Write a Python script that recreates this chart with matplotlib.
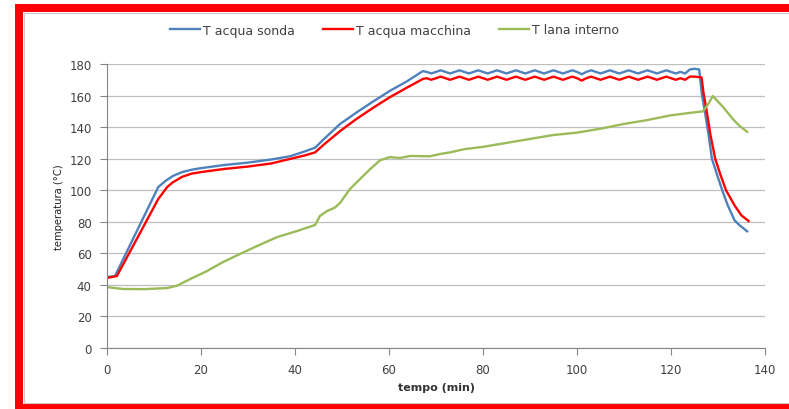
"""
Temperature curves: probe water, machine water and inner wool temperature.
"""

import matplotlib.pyplot as plt
import matplotlib.patches as patches

# --- data -----------------------------------------------------------------
sonda_t = [0, 1.7, 10.9, 12.5, 14, 16, 18, 20, 25, 30, 35, 38.9, 42, 44.3, 46,
           49.6, 53.2, 56.5, 60.2, 63.8, 67.2,
           68, 69, 70, 71, 72, 73, 74, 75, 76, 77, 78, 79, 80, 81, 82, 83, 84,
           85, 86, 87, 88, 89, 90, 91, 92, 93, 94, 95, 96, 97, 98, 99, 100,
           101, 102, 103, 104, 105, 106, 107, 108, 109, 110, 111, 112, 113,
           114, 115, 116, 117, 118, 119, 120, 121, 122, 123, 124, 125, 126,
           126.6, 127.2, 128, 128.7, 130, 130.9, 132, 133.5, 134.5, 136.2]
sonda_v = [45, 45.6, 102, 106, 109, 111.5, 113, 114, 116, 117.5, 119.5, 121.5,
           124.5, 127, 132, 142, 149.5, 156, 163, 169, 175.5,
           175, 174, 175, 176, 175, 174, 175, 176, 175, 174, 175, 176, 175,
           174, 175, 176, 175, 174, 175, 176, 175, 174, 175, 176, 175, 174,
           175, 176, 175, 174, 175, 176, 175, 173.5, 175, 176, 175, 174, 175,
           176, 175, 174, 175, 176, 175, 174, 175, 176, 175, 174, 175, 176,
           175, 174, 175, 174, 176.5, 177, 176.5,
           160, 150, 135, 120, 108, 100, 91, 81, 78, 74]

macchina_t = [0, 2.1, 10.9, 12.8, 14, 16, 18, 20, 25, 30, 35, 38.9, 42, 44.3,
              46, 49.6, 53, 56.5, 60.2, 63.8, 67.2,
              68, 69, 70, 71, 72, 73, 74, 75, 76, 77, 78, 79, 80, 81, 82, 83,
              84, 85, 86, 87, 88, 89, 90, 91, 92, 93, 94, 95, 96, 97, 98, 99,
              100, 101, 102, 103, 104, 105, 106, 107, 108, 109, 110, 111, 112,
              113, 114, 115, 116, 117, 118, 119, 120, 121, 122, 123, 124, 125,
              126.5, 126.9, 127.6, 128.4, 129.4, 130.5, 131.7, 133.6, 135,
              136.5]
macchina_v = [44.4, 45.6, 94.4, 102, 105, 108.5, 110.5, 111.5, 113.5, 115,
              117, 119.8, 122, 124, 128.6, 137.5, 145, 152, 159, 165, 170.5,
              171, 170, 171, 172, 171, 170, 171, 172, 171, 170, 171, 172, 171,
              170, 171, 172, 171, 170, 171, 172, 171, 170, 171, 172, 171, 170,
              171, 172, 171, 170, 171, 172, 171, 169.5, 171, 172, 171, 170,
              171, 172, 171, 170, 171, 172, 171, 170, 171, 172, 171, 170, 171,
              172, 171, 170, 171, 170, 172, 172, 171.5,
              162, 150, 135, 120, 110, 100, 90, 84, 80.5]

lana_t = [0, 3.4, 8, 12.8, 14.9, 17.7, 21.3, 24.7, 28.3, 31.9, 36.2, 40.4,
          44.3, 45.3, 46.8, 48.5, 49.6, 51.7, 53.8, 56, 58.1, 60.2, 62.3,
          64.5, 68.7, 70.9, 73, 76, 80, 85, 90, 95, 100, 105, 110, 115, 120,
          124, 126.8, 128, 128.9, 131, 133.2, 134.5, 136.2]
lana_v = [38.6, 37.4, 37.3, 38, 39.5, 43.7, 48.8, 54.5, 59.6, 64.6, 70.3,
          74.1, 78, 83.7, 86.8, 89, 92, 100.8, 107, 113.4, 119, 121, 120.4,
          121.7, 121.5, 123, 124, 126, 127.5, 130, 132.5, 135, 136.5, 139,
          142, 144.5, 147.5, 149, 150, 155, 159.7, 153, 145, 141, 137]

labels = ["T acqua sonda", "T acqua macchina", "T lana interno"]
colors = ["#4F81BD", "#FF0000", "#9BBB59"]

x_ticks = list(range(0, 141, 20))
y_ticks = list(range(0, 181, 20))

# --- figure ----------------------------------------------------------------
W, H = 789, 410
fig = plt.figure(figsize=(W / 100, H / 100), dpi=100)
fig.patch.set_facecolor("white")

# red frame around the chart (pixel coords, origin bottom-left)
frame_kw = dict(transform=None, facecolor="#FF0000", edgecolor="none")
fig.patches.append(patches.Rectangle((15, H - 13), W - 15, 8, **frame_kw))
fig.patches.append(patches.Rectangle((15, 0), 8, H - 5, **frame_kw))
fig.patches.append(patches.Rectangle((15, 0), W - 15, 5, **frame_kw))
# thin grey chart-area border inside the frame
fig.patches.append(patches.Rectangle((24, 6), W - 20, H - 20, transform=None,
                                     facecolor="none", edgecolor="#C8C8C8",
                                     linewidth=0.8))

ax = fig.add_axes([107 / W, 1 - 349 / H, (765 - 107) / W, (349 - 65) / H])

series = [(sonda_t, sonda_v), (macchina_t, macchina_v), (lana_t, lana_v)]
for (t, v), lab, col in zip(series, labels, colors):
    ax.plot(t, v, color=col, linewidth=1.7, label=lab, solid_joinstyle="round")

ax.set_xlim(0, 140)
ax.set_ylim(0, 180)
ax.set_xticks(x_ticks)
ax.set_yticks(y_ticks)
ax.tick_params(axis="both", labelsize=8.5, colors="#868686",
               labelcolor="#404040", length=5, width=0.8)
ax.tick_params(axis="x", pad=6)
ax.tick_params(axis="y", pad=6)

ax.grid(axis="y", color="#BFBFBF", linewidth=0.9)
ax.set_axisbelow(True)
for side in ["top", "right"]:
    ax.spines[side].set_visible(False)
for side in ["left", "bottom"]:
    ax.spines[side].set_color("#868686")
    ax.spines[side].set_linewidth(0.8)

ax.set_xlabel("tempo (min)", fontsize=8, fontweight="bold", color="#333333",
              labelpad=4)
ax.set_ylabel("temperatura (°C)", fontsize=7.2, color="#222222", labelpad=4)

fig.legend(loc="center", bbox_to_anchor=(0.5, 1 - 31 / H), ncol=3,
           frameon=False, fontsize=9, handlelength=2.4, handletextpad=0.2,
           columnspacing=2.3, labelcolor="#404040")

fig.savefig("out.png", dpi=100, facecolor="white")
